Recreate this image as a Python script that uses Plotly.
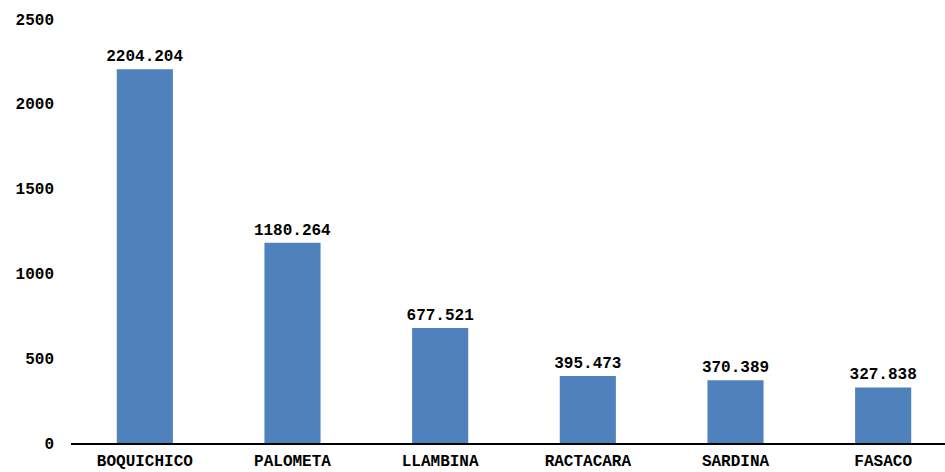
import plotly.graph_objects as go

categories = ["BOQUICHICO", "PALOMETA", "LLAMBINA", "RACTACARA", "SARDINA", "FASACO"]
values = [2204.204, 1180.264, 677.521, 395.473, 370.389, 327.838]
value_labels = ["2204.204", "1180.264", "677.521", "395.473", "370.389", "327.838"]
y_ticks = [0, 500, 1000, 1500, 2000, 2500]

font = dict(family="Liberation Mono", size=16, color="black", weight="bold")

fig = go.Figure(go.Bar(
    x=categories, y=values,
    marker=dict(color="#4F81BD", line=dict(width=0)),
    text=value_labels, textposition="outside", constraintext="none",
    textfont=font, cliponaxis=False,
))
fig.update_layout(
    width=957, height=472,
    margin=dict(l=71, r=0, t=19, b=29),
    plot_bgcolor="white", paper_bgcolor="white",
    bargap=0.62, showlegend=False,
    font=font,
)
fig.update_yaxes(range=[0, 2500], tickvals=y_ticks, showgrid=False, zeroline=False,
                 showline=False, ticks="", ticklabelstandoff=16, tickfont=font,
                 automargin=False)
fig.update_xaxes(showline=True, linecolor="black", linewidth=1.5, ticks="",
                 tickfont=font, ticklabelstandoff=2, automargin=False)
fig.write_html("out.html", config={"displayModeBar": False},
               post_script="document.body.style.margin='0';document.body.style.overflow='hidden';")
